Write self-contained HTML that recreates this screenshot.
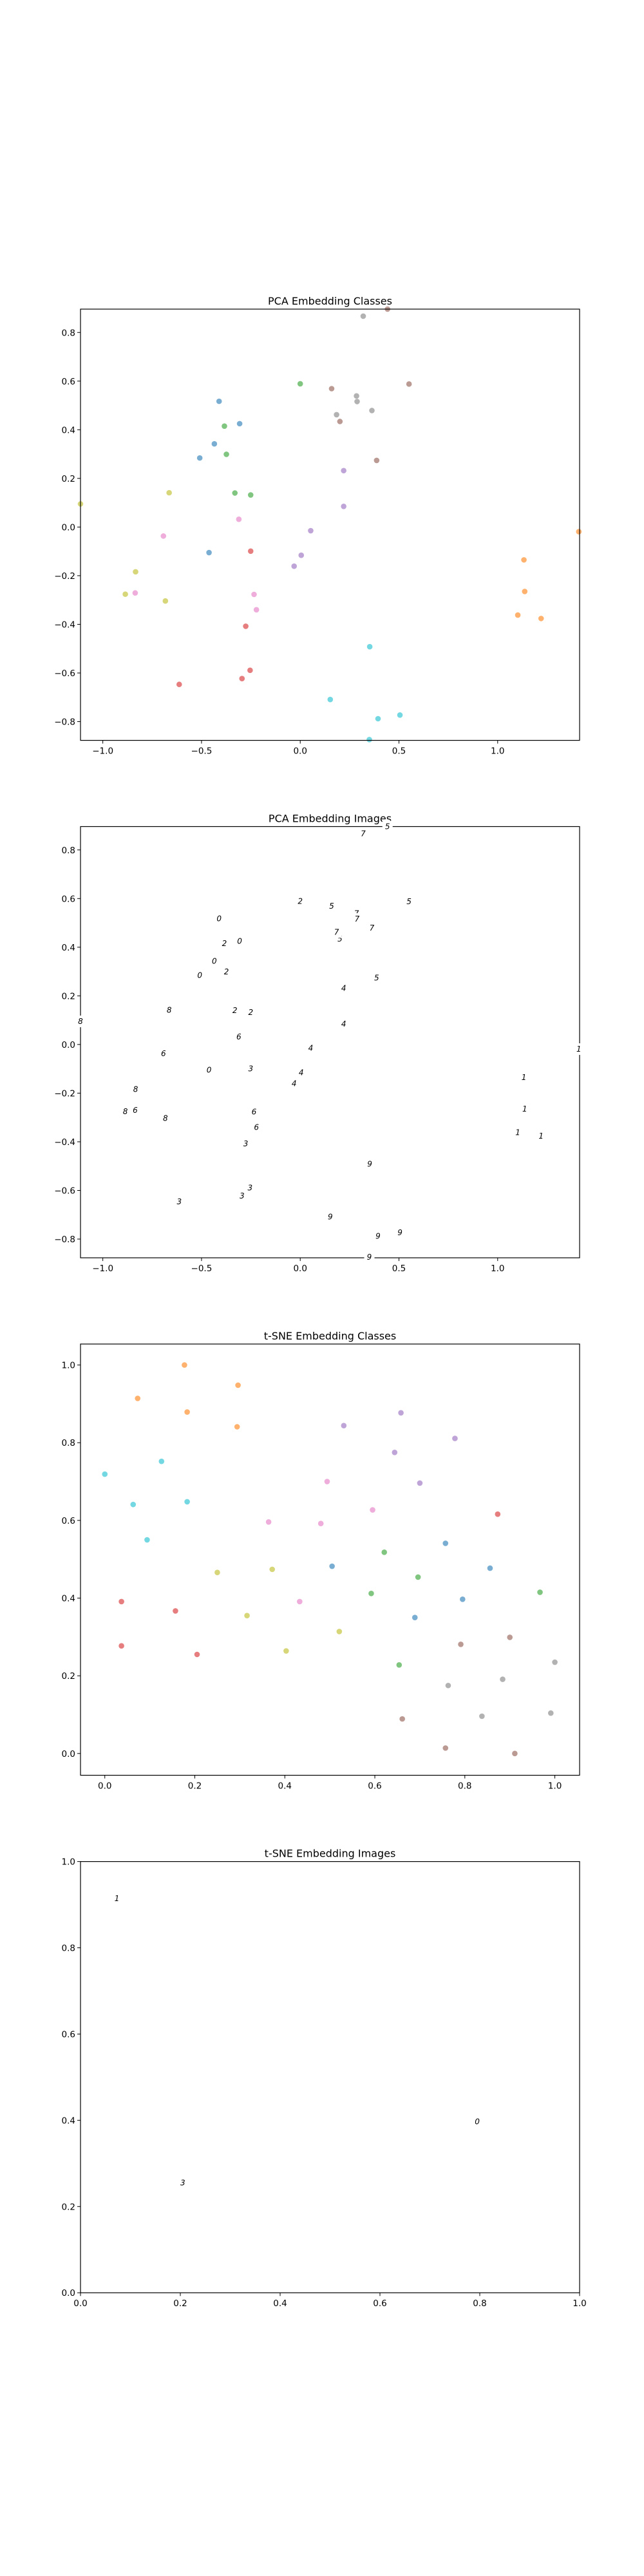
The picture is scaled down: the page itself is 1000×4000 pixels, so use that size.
<!DOCTYPE html>
<html><head><meta charset="utf-8"><style>
body{margin:0;background:#fff;}
svg{display:block;font-family:"DejaVu Sans","Liberation Sans",sans-serif;}
</style></head><body>
<svg id="fig" width="1000" height="4000" xmlns="http://www.w3.org/2000/svg"></svg>
<script>
// ---- data ----
const classDigits = [0,1,2,3,4,5,6,7,8,9];
const pcaX = [
 [-0.411,-0.307,-0.435,-0.509,-0.462],
 [1.411,1.133,1.137,1.102,1.220],
 [0,-0.384,-0.374,-0.331,-0.251],
 [-0.251,-0.276,-0.254,-0.295,-0.613],
 [0.220,0.220,0.053,0.005,-0.031],
 [0.442,0.159,0.551,0.201,0.387],
 [-0.311,-0.693,-0.836,-0.234,-0.222],
 [0.319,0.285,0.288,0.363,0.184],
 [-1.113,-0.664,-0.834,-0.886,-0.683],
 [0.352,0.152,0.394,0.505,0.350]];
const pcaY = [
 [0.517,0.425,0.342,0.284,-0.105],
 [-0.019,-0.135,-0.265,-0.362,-0.376],
 [0.589,0.415,0.299,0.140,0.132],
 [-0.099,-0.408,-0.589,-0.623,-0.647],
 [0.232,0.085,-0.015,-0.116,-0.161],
 [0.896,0.569,0.588,0.434,0.274],
 [0.032,-0.037,-0.271,-0.277,-0.340],
 [0.867,0.539,0.516,0.479,0.462],
 [0.095,0.141,-0.184,-0.276,-0.304],
 [-0.492,-0.709,-0.788,-0.773,-0.874]];
const tsneX = [
 [0.757,0.505,0.856,0.795,0.689],
 [0.177,0.296,0.073,0.183,0.294],
 [0.621,0.696,0.592,0.967,0.654],
 [0.873,0.037,0.157,0.037,0.205],
 [0.531,0.658,0.778,0.644,0.700],
 [0.900,0.791,0.661,0.757,0.911],
 [0.494,0.595,0.364,0.480,0.433],
 [1.0,0.884,0.763,0.838,0.991],
 [0.250,0.372,0.316,0.521,0.403],
 [0,0.126,0.063,0.183,0.094]];
const tsneY = [
 [0.541,0.482,0.477,0.397,0.350],
 [1.0,0.948,0.914,0.879,0.841],
 [0.518,0.454,0.412,0.415,0.228],
 [0.616,0.391,0.367,0.277,0.255],
 [0.844,0.877,0.811,0.775,0.696],
 [0.299,0.281,0.089,0.014,0],
 [0.700,0.627,0.596,0.592,0.391],
 [0.235,0.191,0.175,0.096,0.104],
 [0.466,0.474,0.355,0.314,0.264],
 [0.719,0.752,0.641,0.648,0.550]];
const tsneImgX = [0.073,0.205,0.795];
const tsneImgY = [0.914,0.255,0.397];
const tsneImgDigit = [1,3,0];
const pcaXTicks = [-1.0,-0.5,0.0,0.5,1.0];
const pcaYTicks = [-0.8,-0.6,-0.4,-0.2,0.0,0.2,0.4,0.6,0.8];
const unitTicks = [0.0,0.2,0.4,0.6,0.8,1.0];
const colors = ["#1f77b4","#ff7f0e","#2ca02c","#d62728","#9467bd","#8c564b","#e377c2","#7f7f7f","#bcbd22","#17becf"];

const NS="http://www.w3.org/2000/svg";
const svg=document.getElementById('fig');
function mk(tag,attrs,parent){const e=document.createElementNS(NS,tag);for(const k in attrs)e.setAttribute(k,attrs[k]);(parent||svg).appendChild(e);return e;}
function fmt(v){return (v<0?"\u2212":"")+Math.abs(v).toFixed(1);}
const L=125,R=900,H=669.6,tops=[480,1283.5,2087,2890.6];

function axes(i,title,xlim,ylim,xt,yt,name){
  const top=tops[i],bot=top+H;
  const g=mk('g',{});
  
  
  const sx=v=>L+(v-xlim[0])/(xlim[1]-xlim[0])*(R-L);
  const sy=v=>bot-(v-ylim[0])/(ylim[1]-ylim[0])*H;
  const t=mk('text',{x:(L+R)/2,y:top-7,'text-anchor':'middle','font-size':'16'},g);
  t.textContent=title;
  
  
  const plot=mk('g',{},g);
  const frame=mk('rect',{x:L,y:top,width:R-L,height:H,fill:'none',stroke:'#000','stroke-width':1.2},g);
  
  
  const over=mk('g',{},g);
  xt.forEach(v=>{const x=sx(v);
    const tk=mk('line',{x1:x,x2:x,y1:bot,y2:bot+5,stroke:'#000','stroke-width':1},g);
    
    
    const lb=mk('text',{x:x,y:bot+21,'text-anchor':'middle','font-size':'13.5'},g);
    lb.textContent=fmt(v);
    
    });
  yt.forEach(v=>{const y=sy(v);
    const tk=mk('line',{x1:L-5,x2:L,y1:y,y2:y,stroke:'#000','stroke-width':1},g);
    
    
    const lb=mk('text',{x:L-8,y:y+5,'text-anchor':'end','font-size':'13.5'},g);
    lb.textContent=fmt(v);
    
    });
  return {sx,sy,plot,over};
}
function scatter(ax,X,Y){
  X.forEach((row,c)=>row.forEach((v,j)=>{
    const p=mk('circle',{cx:ax.sx(v),cy:ax.sy(Y[c][j]),r:4.3,fill:colors[c],'fill-opacity':0.6},ax.plot);
    
    
  }));
}
function digitImg(ax,x,y,d){
  const px=ax.sx(x),py=ax.sy(y);
  const r=mk('rect',{x:px-8,y:py-9,width:16,height:18,fill:'#fff'},ax.over);
  
  
  const t=mk('text',{x:px,y:py+4,'text-anchor':'middle','font-size':'12','font-style':'italic'},ax.over);
  t.textContent=String(d);
  
  
}
const pxl=[-1.113,1.415],pyl=[-0.877,0.896];
const a1=axes(0,'PCA Embedding Classes',pxl,pyl,pcaXTicks,pcaYTicks,'pca-classes-chart');
scatter(a1,pcaX,pcaY);
const a2=axes(1,'PCA Embedding Images',pxl,pyl,pcaXTicks,pcaYTicks,'pca-images-chart');
pcaX.forEach((row,c)=>row.forEach((v,j)=>digitImg(a2,v,pcaY[c][j],classDigits[c])));
const a3=axes(2,'t-SNE Embedding Classes',[-0.054,1.055],[-0.056,1.054],unitTicks,unitTicks,'tsne-classes-chart');
scatter(a3,tsneX,tsneY);
const a4=axes(3,'t-SNE Embedding Images',[0,1],[0,1],unitTicks,unitTicks,'tsne-images-chart');
tsneImgX.forEach((v,i)=>digitImg(a4,v,tsneImgY[i],tsneImgDigit[i]));
</script>
</body></html>
